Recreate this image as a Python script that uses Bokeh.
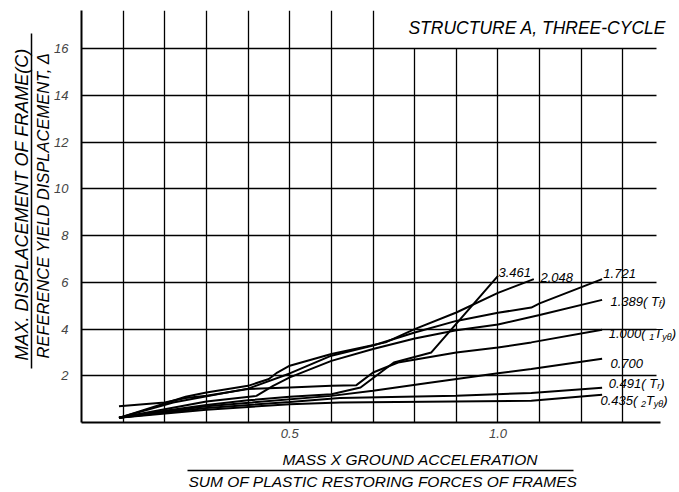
from bokeh.plotting import figure
from bokeh.models import LinearAxis, FixedTicker, Grid, Range1d, Title
from bokeh.core.properties import value
from bokeh.embed import file_html
from bokeh.resources import INLINE

FONT = "Liberation Sans"

# ---------------- data ----------------
x_ticks = [0.5, 1.0]
x_tick_labels = {0.5: "0.5", 1.0: "1.0"}
y_ticks = [2, 4, 6, 8, 10, 12, 14, 16]
y_tick_labels = {t: str(t) for t in y_ticks}
grid_x_tall = [0.1, 0.2, 0.3, 0.4, 0.5, 0.6, 0.7]
grid_x_short = [0.8, 0.9, 1.0, 1.1, 1.2, 1.3]

x_3461 = [0.09, 0.2, 0.3, 0.4, 0.5, 0.6, 0.67, 0.75, 0.84, 1.0]
y_3461 = [0.2, 0.5, 0.75, 0.95, 1.1, 1.21, 1.5, 2.57, 3.0, 6.28]

x_2048 = [0.09, 0.25, 0.3, 0.4, 0.45, 0.47, 0.5, 0.6, 0.73, 0.8, 0.9, 1.0, 1.086]
y_2048 = [0.2, 1.1, 1.28, 1.57, 1.86, 2.14, 2.43, 2.93, 3.43, 4.0, 4.71, 5.55, 6.14]

x_1721 = [0.09, 0.22, 0.4, 0.5, 0.6, 0.7, 0.8, 0.9, 1.0, 1.08, 1.1, 1.25]
y_1721 = [0.2, 0.86, 1.45, 2.1, 2.86, 3.3, 3.85, 4.35, 4.7, 4.92, 5.1, 6.14]

x_1389 = [0.09, 0.3, 0.42, 0.46, 0.5, 0.6, 0.7, 0.8, 0.9, 1.0, 1.1, 1.25]
y_1389 = [0.2, 0.9, 1.14, 1.57, 1.93, 2.64, 3.15, 3.6, 3.95, 4.2, 4.6, 5.25]

x_1000 = [0.09, 0.2, 0.25, 0.3, 0.4, 0.5, 0.6, 0.66, 0.7, 0.76, 0.9, 1.0, 1.08, 1.25]
y_1000 = [0.7, 0.86, 1.05, 1.15, 1.43, 1.5, 1.57, 1.6, 2.14, 2.57, 3.0, 3.21, 3.43, 3.97]

x_0700 = [0.09, 0.3, 0.41, 0.6, 0.7, 0.84, 1.0, 1.08, 1.25]
y_0700 = [0.2, 0.7, 0.86, 1.14, 1.36, 1.71, 2.11, 2.29, 2.73]

x_0491 = [0.09, 0.3, 0.5, 0.62, 0.9, 1.08, 1.25]
y_0491 = [0.2, 0.62, 0.88, 1.05, 1.15, 1.26, 1.49]

x_0435 = [0.09, 0.3, 0.5, 0.62, 1.08, 1.25]
y_0435 = [0.2, 0.55, 0.78, 0.86, 0.93, 1.19]

series = [
    (x_3461, y_3461), (x_2048, y_2048), (x_1721, y_1721), (x_1389, y_1389),
    (x_1000, y_1000), (x_0700, y_0700), (x_0491, y_0491), (x_0435, y_0435),
]

# curve labels: (x, y, parts) ; parts = (text, is_subscript)
curve_labels = [
    (1.001, 6.42, [("3.461", False)]),
    (1.102, 6.2, [("2.048", False)]),
    (1.253, 6.38, [("1.721", False)]),
    (1.27, 5.2, [("1.389( T", False), ("f", True), (")", False)]),
    (1.266, 3.81, [("1.000( ", False), ("1", True), ("T", False), ("yθ", True), (")", False)]),
    (1.27, 2.53, [("0.700", False)]),
    (1.266, 1.67, [("0.491( T", False), ("r", True), (")", False)]),
    (1.246, 0.94, [("0.435( ", False), ("2", True), ("T", False), ("yθ", True), (")", False)]),
]

chart_title = "STRUCTURE A, THREE-CYCLE"
x_title_num = "MASS X GROUND ACCELERATION"
x_title_den = "SUM OF PLASTIC RESTORING FORCES OF FRAMES"
y_title_num = "MAX. DISPLACEMENT  OF FRAME(C)"
y_title_den = "REFERENCE YIELD DISPLACEMENT, Δ"

X_END = 1.431
Y_END = 17.64

p = figure(width=679, height=491, output_backend="svg", toolbar_location=None,
           x_range=Range1d(0, X_END), y_range=Range1d(0, Y_END),
           x_axis_type=None, y_axis_type=None,
           min_border_left=81, min_border_right=2, min_border_top=10, min_border_bottom=69)
p.outline_line_color = None
p.background_fill_color = "white"
p.border_fill_color = "white"

# grids
gl = dict(grid_line_color="black", grid_line_width=1.3, grid_line_alpha=1.0)
p.add_layout(Grid(dimension=1, ticker=FixedTicker(ticks=y_ticks), cross_bounds=(0, 1.38), **gl))
p.add_layout(Grid(dimension=0, ticker=FixedTicker(ticks=grid_x_tall), cross_bounds=(0, Y_END), **gl))
p.add_layout(Grid(dimension=0, ticker=FixedTicker(ticks=grid_x_short), cross_bounds=(0, 16), **gl))

no_ticks = dict(major_tick_in=0, minor_tick_out=0, minor_tick_in=0)

def spacer(px, pos):
    # an invisible tick whose outward length reserves px pixels of room
    return LinearAxis(ticker=FixedTicker(ticks=[pos]), axis_line_color=None,
                      major_tick_line_color=None, major_tick_out=px,
                      major_label_overrides={pos: ""}, major_label_text_font_size="0px",
                      major_label_standoff=0, **no_ticks)

def title(text, offset, size):
    return Title(text=text, align="left", offset=offset, standoff=0, text_font=FONT,
                 text_font_size=size, text_font_style="italic", text_color="black")

# x axes
xaxis = LinearAxis(ticker=FixedTicker(ticks=x_ticks), bounds=(0, 1.39),
                   major_label_overrides=x_tick_labels, axis_line_width=2,
                   major_tick_out=0, major_label_standoff=6, major_label_text_font=FONT,
                   major_label_text_font_size="13px", major_label_text_font_style="italic",
                   **no_ticks)
p.add_layout(xaxis, "below")
p.add_layout(spacer(8, 0.7), "below")
p.add_layout(title(x_title_num, 201, "15.5px"), "below")
p.add_layout(spacer(3, 0.7), "below")
xbar = LinearAxis(ticker=FixedTicker(ticks=[]), bounds=(0.2545, 1.181), axis_line_width=1.5,
                  major_tick_out=0, major_label_text_font_size="0px", major_label_standoff=0,
                  **no_ticks)
p.add_layout(xbar, "below")
p.add_layout(title(x_title_den, 107, "15.5px"), "below")

# y axes
yaxis = LinearAxis(ticker=FixedTicker(ticks=y_ticks), bounds=(0, Y_END),
                   major_label_overrides=y_tick_labels, axis_line_width=2,
                   major_tick_out=0, major_label_standoff=13, major_label_text_font=FONT,
                   major_label_text_font_size="13px", major_label_text_font_style="italic",
                   **no_ticks)
p.add_layout(yaxis, "left")
p.add_layout(title(y_title_den, 64, "16.5px"), "left")
ybar = LinearAxis(ticker=FixedTicker(ticks=[]), bounds=(2.31, 16.66), axis_line_width=1.5,
                  major_tick_out=0, major_label_text_font_size="0px", major_label_standoff=0,
                  **no_ticks)
p.add_layout(ybar, "left")
p.add_layout(title(y_title_num, 62, "18px"), "left")

# curves
for xs, ys in series:
    p.line(xs, ys, line_color="black", line_width=2)

# curve labels
CW = {".": 0.278, "(": 0.333, ")": 0.333, " ": 0.278, "T": 0.611, "f": 0.278,
      "r": 0.333, "y": 0.5, "θ": 0.556}
def text_width(s, size):
    return sum(CW.get(c, 0.556) for c in s) * size

for lx, ly, parts in curve_labels:
    off = 0.0
    for txt, sub in parts:
        size = 9 if sub else 13
        p.text(x=[lx], y=[ly], text=[txt], x_offset=off, y_offset=3 if sub else 0,
               text_font=value(FONT), text_font_size=f"{size}px", text_font_style="italic",
               text_color="black", text_baseline="alphabetic", text_align="left")
        off += text_width(txt, size)

# chart title
p.text(x=[0.785], y=[16.9], text=[chart_title], text_font=value(FONT),
       text_font_size="17.5px", text_font_style="italic", text_color="black",
       text_baseline="alphabetic", text_align="left")

open("out.html", "w").write(file_html(p, INLINE))
